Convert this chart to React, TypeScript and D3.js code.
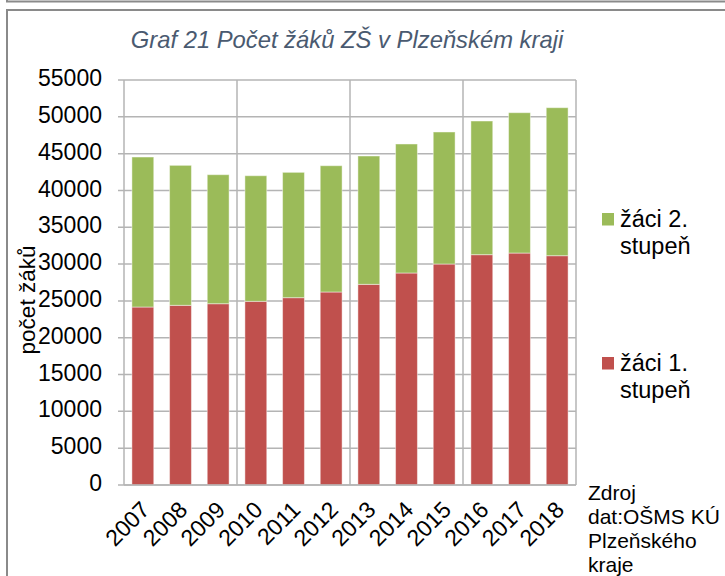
import { useEffect, useRef } from 'react'
import * as d3 from 'd3'

const years = ['2007', '2008', '2009', '2010', '2011', '2012', '2013', '2014', '2015', '2016', '2017', '2018']
const stupen1 = [24170, 24400, 24620, 24940, 25440, 26210, 27250, 28790, 30010, 31280, 31500, 31140]
const totals = [44540, 43410, 42140, 42000, 42460, 43360, 44680, 46310, 47940, 49430, 50560, 51240]
const stupen2 = totals.map((t, i) => t - stupen1[i])
const yTicks = [0, 5000, 10000, 15000, 20000, 25000, 30000, 35000, 40000, 45000, 50000, 55000]
const sourceLines = ['Zdroj', 'dat:OŠMS KÚ', 'Plzeňského', 'kraje']

const GREEN = '#9bbb59'
const RED = '#c0504d'
const FONT = '"Liberation Sans", Arial, sans-serif'

export default function App() {
  const svgRef = useRef<SVGSVGElement>(null)

  useEffect(() => {
    document.body.style.margin = '0'
    if (!svgRef.current) return
    const svg = d3.select(svgRef.current)
    svg.selectAll('*').remove()

    const left = 124, right = 576, top = 80, bottom = 485

    // frame (bottom edge of box above + this chart's box)
    svg.append('path')
      .attr('d', 'M7,0 V1.5 H725')
      .attr('fill', 'none').attr('stroke', '#8a8a8a').attr('stroke-width', 2)
    svg.append('path')
      .attr('d', 'M7,576 V10 H725')
      .attr('fill', 'none').attr('stroke', '#8a8a8a').attr('stroke-width', 2)

    const x = d3.scaleBand().domain(years).range([left, right]).paddingInner(0.42).paddingOuter(0.21)
    const y = d3.scaleLinear().domain([0, 55000]).range([bottom, top])
    const step = (right - left) / years.length

    // horizontal grid
    svg.append('g').selectAll('line')
      .data(yTicks)
      .join('line')
      .attr('x1', left - 6).attr('x2', right)
      .attr('y1', d => y(d)).attr('y2', d => y(d))
      .attr('stroke', '#b4b4b4').attr('stroke-width', 1.5)

    // vertical grid every 3 categories
    svg.append('g').selectAll('line')
      .data([0, 3, 6, 9, 12])
      .join('line')
      .attr('x1', d => left + d * step).attr('x2', d => left + d * step)
      .attr('y1', top).attr('y2', bottom)
      .attr('stroke', '#b4b4b4').attr('stroke-width', 1.5)

    // y tick labels
    svg.append('g').selectAll('text')
      .data(yTicks)
      .join('text')
      .attr('x', 102)
      .attr('y', d => y(d))
      .attr('text-anchor', 'end')
      .attr('dominant-baseline', 'middle')
      .attr('font-family', FONT)
      .attr('font-size', 23)
      .attr('fill', '#000')
      .text(d => d)

    // bars
    const stackData = years.map((yr, i) => ({ year: yr, s1: stupen1[i], s2: stupen2[i] }))
    const stack = d3.stack<any>().keys(['s1', 's2'])(stackData)
    const colors = [RED, GREEN]
    stack.forEach((layer, li) => {
      svg.append('g').selectAll('rect')
        .data(layer)
        .join('rect')
        .attr('x', d => x(d.data.year) || 0)
        .attr('width', x.bandwidth())
        .attr('y', d => y(d[1]))
        .attr('height', d => y(d[0]) - y(d[1]))
        .attr('fill', colors[li])
        .attr('stroke', 'rgba(255,255,255,0.45)')
        .attr('stroke-width', 1)
    })

    // axis line bottom
    svg.append('line')
      .attr('x1', left).attr('x2', right)
      .attr('y1', bottom).attr('y2', bottom)
      .attr('stroke', '#b4b4b4').attr('stroke-width', 1.5)

    // x labels
    svg.append('g').selectAll('text')
      .data(years)
      .join('text')
      .attr('transform', d => `translate(${(x(d) || 0) + x.bandwidth() / 2 + 4},${bottom + 22}) rotate(-45)`)
      .attr('text-anchor', 'end')
      .attr('dominant-baseline', 'middle')
      .attr('font-family', FONT)
      .attr('font-size', 23)
      .text(d => d)

    // y title
    svg.append('text')
      .attr('transform', `translate(29,300) rotate(-90)`)
      .attr('text-anchor', 'middle')
      .attr('dominant-baseline', 'middle')
      .attr('font-family', FONT)
      .attr('font-size', 22.5)
      .text('počet žáků')

    // title
    svg.append('text')
      .attr('x', 347).attr('y', 48)
      .attr('text-anchor', 'middle')
      .attr('font-family', FONT)
      .attr('font-size', 23.8)
      .attr('font-style', 'italic')
      .attr('fill', '#4a5a70')
      .text('Graf 21 Počet žáků ZŠ v Plzeňském kraji')

    // legend
    const legend = [
      { color: GREEN, lines: ['žáci 2.', 'stupeň'], base: 227, sq: 213 },
      { color: RED, lines: ['žáci 1.', 'stupeň'], base: 371, sq: 357 },
    ]
    legend.forEach(l => {
      svg.append('rect')
        .attr('x', 602).attr('y', l.sq).attr('width', 12).attr('height', 12.5)
        .attr('fill', l.color)
      l.lines.forEach((t, i) => {
        svg.append('text')
          .attr('x', 620).attr('y', l.base + i * 26.5)
          .attr('font-family', FONT)
          .attr('font-size', 23.5)
          .text(t)
      })
    })

    // source
    sourceLines.forEach((t, i) => {
      svg.append('text')
        .attr('x', 588).attr('y', 494 + i * 24)
        .attr('dominant-baseline', 'middle')
        .attr('font-family', FONT)
        .attr('font-size', 21)
        .text(t)
    })
  }, [])

  return <svg ref={svgRef} width={725} height={576} style={{ display: 'block', background: '#fff' }} />
}
